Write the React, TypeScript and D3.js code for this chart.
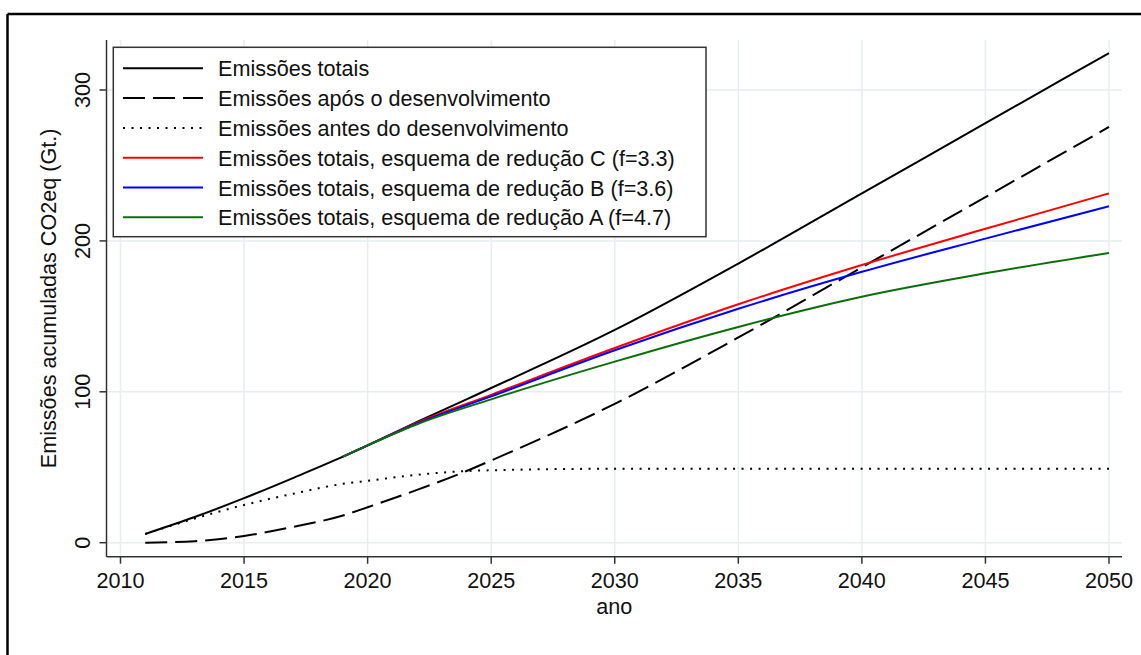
import React from 'react';
import * as d3 from 'd3';

// Cumulative CO2eq emissions (Gt.), 2011–2050
const years = [2011, 2013, 2015, 2017, 2019, 2020, 2022, 2024, 2025, 2030, 2035, 2040, 2045, 2050];
const totalEmissions = [5.8, 17, 29.5, 43, 57, 64.5, 80, 95, 102.5, 141, 185, 231.5, 278, 324.5];
const afterDevelopment = [0, 1, 4.5, 10.5, 18, 23.5, 35, 47.5, 54.5, 92, 136, 182.5, 229, 275.5];
const beforeDevelopment = [5.8, 16, 25, 32.5, 39, 41, 45, 47.5, 48, 49, 49, 49, 49, 49];

// Reduction schemes branch off the total from 2019 onwards
const schemeYears = [2019, 2020, 2022, 2025, 2030, 2035, 2040, 2045, 2050];
const schemeC = [57, 64.5, 79.5, 98, 129, 158, 184, 208, 231.5];
const schemeB = [57, 64.5, 79, 97, 127.5, 155, 179.5, 201.5, 223];
const schemeA = [57, 64.5, 78.5, 95, 120, 143, 163, 178.5, 192];

const xTicks = [2010, 2015, 2020, 2025, 2030, 2035, 2040, 2045, 2050];
const yTicks = [0, 100, 200, 300];

const legendLabels = [
  'Emissões totais',
  'Emissões após o desenvolvimento',
  'Emissões antes do desenvolvimento',
  'Emissões totais, esquema de redução C (f=3.3)',
  'Emissões totais, esquema de redução B (f=3.6)',
  'Emissões totais, esquema de redução A (f=4.7)',
];

const FONT = '"Liberation Sans", Arial, Helvetica, sans-serif';
const FS = 21.6;

type Series = { xs: number[]; ys: number[]; color: string; dash?: string; width: number };

export default function App() {
  const W = 1141;
  const H = 655;
  const plot = { left: 106.5, right: 1122, top: 40, bottom: 556.7 };

  const x = d3.scaleLinear().domain([2010, 2050]).range([120.5, 1109]);
  const y = d3.scaleLinear().domain([0, 300]).range([542.7, 90]);

  const series: Series[] = [
    { xs: years, ys: totalEmissions, color: '#000', width: 2 },
    { xs: years, ys: afterDevelopment, color: '#000', dash: '22 8', width: 2 },
    { xs: years, ys: beforeDevelopment, color: '#000', dash: '2 6.5', width: 2 },
    { xs: schemeYears, ys: schemeC, color: '#ff0000', width: 2 },
    { xs: schemeYears, ys: schemeB, color: '#0000ff', width: 2 },
    { xs: schemeYears, ys: schemeA, color: '#0b6e0b', width: 2 },
  ];

  const line = d3
    .line<[number, number]>()
    .x((d) => x(d[0]))
    .y((d) => y(d[1]))
    .curve(d3.curveMonotoneX);

  const gridColor = '#e6eef0';
  const axisColor = '#333';

  const legend = { x0: 113.3, y0: 47.3, x1: 706, y1: 236.7 };
  const rowBaseline = (i: number) => 76.3 + i * 29.8;

  return (
    <svg
      width={W}
      height={H}
      style={{ position: 'absolute', left: 0, top: 0, background: '#fff' }}
      fontFamily={FONT}
    >
      <rect x={0} y={0} width={W} height={H} fill="#fff" />
      {/* outer frame (top and left edges) */}
      <line x1={7.5} y1={14} x2={W} y2={14} stroke="#000" strokeWidth={2.5} />
      <line x1={7.5} y1={14} x2={7.5} y2={H} stroke="#000" strokeWidth={2.5} />

      {/* gridlines */}
      {xTicks.map((t) => (
        <line key={'gx' + t} x1={x(t)} x2={x(t)} y1={plot.top} y2={plot.bottom} stroke={gridColor} strokeWidth={1.5} />
      ))}
      {yTicks.map((t) => (
        <line key={'gy' + t} x1={plot.left} x2={plot.right} y1={y(t)} y2={y(t)} stroke={gridColor} strokeWidth={1.5} />
      ))}

      {/* axes */}
      <line x1={plot.left} x2={plot.left} y1={plot.top} y2={plot.bottom} stroke={axisColor} strokeWidth={1.5} />
      <line x1={plot.left} x2={plot.right} y1={plot.bottom} y2={plot.bottom} stroke={axisColor} strokeWidth={1.5} />

      {xTicks.map((t) => (
        <g key={'tx' + t}>
          <line x1={x(t)} x2={x(t)} y1={plot.bottom} y2={plot.bottom + 7} stroke={axisColor} strokeWidth={1.5} />
          <text x={x(t)} y={588} textAnchor="middle" fontSize={FS} fill="#111">
            {t}
          </text>
        </g>
      ))}
      {yTicks.map((t) => (
        <g key={'ty' + t}>
          <line x1={plot.left - 7} x2={plot.left} y1={y(t)} y2={y(t)} stroke={axisColor} strokeWidth={1.5} />
          <text
            transform={`translate(89.5,${y(t)}) rotate(-90)`}
            textAnchor="middle"
            fontSize={FS}
            fill="#111"
          >
            {t}
          </text>
        </g>
      ))}

      <text
        transform={`translate(56,${(plot.top + plot.bottom) / 2}) rotate(-90)`}
        textAnchor="middle"
        fontSize={FS}
        fill="#111"
      >
        Emissões acumuladas CO2eq (Gt.)
      </text>
      <text x={(plot.left + plot.right) / 2} y={613.5} textAnchor="middle" fontSize={FS} fill="#111">
        ano
      </text>

      {/* series */}
      {series.map((s, i) => (
        <path
          key={'s' + i}
          d={line(s.xs.map((v, j) => [v, s.ys[j]] as [number, number])) || ''}
          fill="none"
          stroke={s.color}
          strokeWidth={s.width}
          strokeDasharray={s.dash}
        />
      ))}

      {/* legend */}
      <rect
        x={legend.x0}
        y={legend.y0}
        width={legend.x1 - legend.x0}
        height={legend.y1 - legend.y0}
        fill="#fff"
        stroke="#333"
        strokeWidth={1.5}
      />
      {legendLabels.map((label, i) => {
        const s = series[i];
        const by = rowBaseline(i);
        return (
          <g key={'lg' + i}>
            <line
              x1={123}
              x2={203}
              y1={by - 8}
              y2={by - 8}
              stroke={s.color}
              strokeWidth={s.width}
              strokeDasharray={s.dash}
            />
            <text x={218} y={by} fontSize={FS} fill="#111">
              {label}
            </text>
          </g>
        );
      })}
    </svg>
  );
}
